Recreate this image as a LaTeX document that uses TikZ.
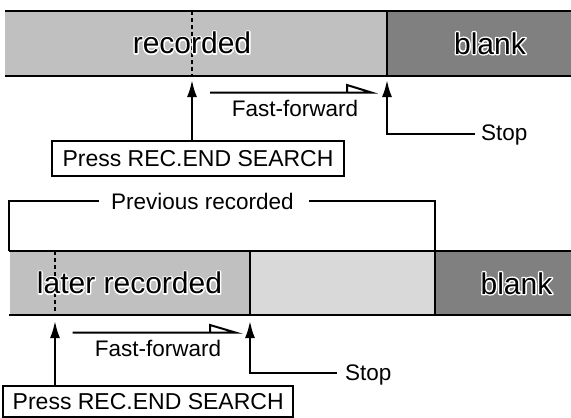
\documentclass[tikz,border=0pt]{standalone}
\usepackage{fontspec}
\setmainfont{Liberation Sans}
\usetikzlibrary{arrows.meta}
\definecolor{recgray}{HTML}{C0C0C0}
\definecolor{blankgray}{HTML}{808080}
\definecolor{lightgray2}{HTML}{D9D9D9}
\tikzset{
  bigtext/.style={inner sep=0pt, anchor=base, font=\fontsize{30}{36}\selectfont},
  smalltext/.style={inner sep=0pt, font=\fontsize{22.5}{27}\selectfont},
  tapeline/.style={line width=2.2pt},
  sepline/.style={line width=2pt},
  dashline/.style={line width=1.8pt, dash pattern=on 4pt off 3pt},
  upar/.style={line width=2.2pt, -{Latex[length=17pt,width=10pt]}},
  ffline/.style={line width=2pt, line join=miter},
  pressbox/.style={draw, line width=2pt, inner sep=0pt, font=\fontsize{23}{27}\selectfont},
  bracket/.style={line width=2pt},
}
\newcommand\halotext[3]{%
  \node[bigtext, white] at (#2) {\special{pdf:literal direct 1 Tr 2.8 w 1 j 1 1 1 RG}#3\special{pdf:literal direct 0 Tr}};
  \node[bigtext] (#1) at (#2) {#3};}
\begin{document}
\begin{tikzpicture}[x=1pt,y=-1pt]
\useasboundingbox (0,0) rectangle (571,418);
% ---------- top tape ----------
\fill[recgray] (5,11) rectangle (386.5,76);
\fill[blankgray] (386.5,11) rectangle (571,76);
\draw[tapeline] (5,11) -- (571,11);
\draw[tapeline] (5,76) -- (571,76);
\draw[sepline] (386.5,11) -- (386.5,76);
\coordinate (td1) at (192,11);
\coordinate (td2) at (192,76);
\draw[dashline] (td1) -- (td2);
\coordinate (trec) at (192,53.5);
\coordinate (tblk) at (490,54);
\halotext{recorded}{trec}{recorded}
\halotext{blank1}{tblk}{blank}
% press box
\node[pressbox, minimum width=292pt, minimum height=35pt] (press1) at (198,158.5) {Press REC.END SEARCH};
\coordinate (tip1) at (192,80);
\draw[upar] (press1.north -| tip1) -- (tip1);
% fast-forward
\coordinate (ff1a) at (210,92.7);
\coordinate (ff1b) at (372,92.7);
\coordinate (ff1c) at (347,85);
\coordinate (ff1d) at (347,92.7);
\draw[ffline] (ff1a) -- (ff1b) -- (ff1c) -- (ff1d);
\node[smalltext] (fft1) at (295,108) {Fast-forward};
% stop
\node[smalltext, anchor=west] (stop1) at (481,135) {Stop};
\coordinate (sc1) at (387,134);
\coordinate (stip1) at (387,80);
\draw[upar] (stop1.west |- sc1) ++(-6,0) -- (sc1) -- (stip1);
% ---------- bottom tape ----------
\fill[recgray] (10,251) rectangle (250,315);
\fill[lightgray2] (250,251) rectangle (435,315);
\fill[blankgray] (435,251) rectangle (571,315);
\draw[tapeline] (9,251) -- (571,251);
\draw[tapeline] (9,315) -- (571,315);
\draw[sepline] (250,251) -- (250,315);
\draw[sepline] (435,251) -- (435,315);
\coordinate (bd1) at (55,251);
\coordinate (bd2) at (55,315);
\draw[dashline] (bd1) -- (bd2);
\coordinate (blat) at (129.5,293.5);
\coordinate (bblk) at (516.5,294);
\halotext{later}{blat}{later recorded}
\halotext{blank2}{bblk}{blank}
% previous recorded bracket
\node[smalltext] (prev) at (202.5,201) {Previous recorded};
\coordinate (brl) at (9,251);
\coordinate (brr) at (435,251);
\draw[bracket] (prev.west |- 0,200.5) ++(-12,0) -- (9,200.5) -- (brl);
\draw[bracket] (prev.east |- 0,200.5) ++(15,0) -- (435,200.5) -- (brr);
% press box 2
\node[pressbox, minimum width=290pt, minimum height=31pt] (press2) at (148.2,401.3) {Press REC.END SEARCH};
\coordinate (tip2) at (55,321);
\draw[upar] (press2.north -| tip2) -- (tip2);
% fast-forward 2
\coordinate (ff2a) at (72.7,332.7);
\coordinate (ff2b) at (236,332.7);
\coordinate (ff2c) at (210,325);
\coordinate (ff2d) at (210,332.7);
\draw[ffline] (ff2a) -- (ff2b) -- (ff2c) -- (ff2d);
\node[smalltext] (fft2) at (158,348) {Fast-forward};
% stop 2
\node[smalltext, anchor=west] (stop2) at (345,374.5) {Stop};
\coordinate (sc2) at (250,372.7);
\coordinate (stip2) at (250,321);
\draw[upar] (stop2.west |- sc2) ++(-8,0) -- (sc2) -- (stip2);
\end{tikzpicture}
\end{document}
